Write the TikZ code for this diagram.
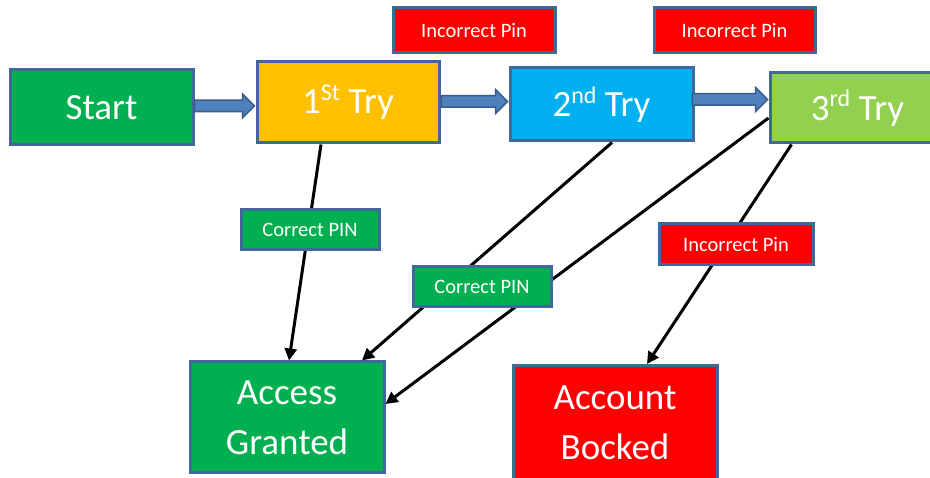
\documentclass[tikz,border=0pt]{standalone}
\usepackage{fontspec}
\setmainfont{Carlito}
\usetikzlibrary{shapes.arrows,arrows.meta,calc}
\definecolor{bord}{HTML}{41689A}
\definecolor{cgreen}{HTML}{00B050}
\definecolor{cyellow}{HTML}{FFC000}
\definecolor{cblue}{HTML}{00B0F0}
\definecolor{clime}{HTML}{92D050}
\definecolor{cred}{HTML}{FF0000}
\definecolor{afill}{HTML}{4F81BD}
\definecolor{abord}{HTML}{385D8A}
\newcommand{\supx}[1]{\raisebox{0.36em}{\fontsize{24}{24}\selectfont #1}}
\tikzset{
  box/.style={draw=bord, line width=3pt, rectangle, inner sep=0pt, text=white, align=center,
    font=\fontsize{37}{50}\selectfont},
  lbl/.style={draw=bord, line width=3pt, rectangle, inner sep=0pt, text=white, fill=cred,
    font=\fontsize{20.5}{24}\selectfont},
  blockarrow/.style={single arrow, draw=abord, fill=afill, line width=1.5pt, inner xsep=0pt,
    inner ysep=5pt, single arrow head extend=6pt, single arrow tip angle=90},
  conn/.style={draw=black, line width=3pt, -{Triangle[length=12pt,width=12pt]}}
}
\begin{document}
\begin{tikzpicture}[x=1pt,y=-1pt]
\clip (0,0) rectangle (930,478);
\fill[white] (0,0) rectangle (930,478);
% main boxes
\node[box, fill=cgreen, minimum width=183pt, minimum height=75pt] (start) at (101.5,107.5) {Start};
\node[box, fill=cyellow, minimum width=182pt, minimum height=81pt] (try1) at (348,102.5) {1\supx{St} Try};
\node[box, fill=cblue, minimum width=183pt, minimum height=73pt] (try2) at (601.5,104.5) {2\supx{nd} Try};
\node[box, fill=clime, minimum width=175pt, minimum height=70pt] (try3) at (857.5,108) {3\supx{rd} Try};
\node[box, fill=cgreen, minimum width=194pt, minimum height=111pt] (acc) at (287,417.5) {Access\\Granted};
\node[box, fill=cred, minimum width=204pt, minimum height=115pt] (blk) at (615,423) {Account\\Bocked};
% block arrows
\node[blockarrow, anchor=tip, minimum height=60pt] (ar1) at (try1.west |- 0,106) {};
\node[blockarrow, anchor=tip, minimum height=66pt] (ar2) at (try2.west |- 0,101.5) {};
\node[blockarrow, anchor=tip, minimum height=75pt] (ar3) at (try3.west |- 0,99.5) {};
% connectors
\draw[conn] ([xshift=-27pt]try1.south) -- ([xshift=2pt]acc.north);
\draw[conn] ([xshift=10.5pt]try2.south) -- ([xshift=75pt]acc.north);
\draw[conn] ([yshift=-10pt]try3.west) -- ([yshift=13.5pt]acc.east);
\draw[conn] ([xshift=23pt]try3.south west) -- ([xshift=32pt]blk.north);
% labels
\node[lbl, minimum width=162pt, minimum height=45pt] (inc1) at (474,30.5) {Incorrect Pin};
\node[lbl, minimum width=161pt, minimum height=45pt] (inc2) at (734.5,30.5) {Incorrect Pin};
\node[lbl, minimum width=154pt, minimum height=41pt] (inc3) at (736,244.5) {Incorrect Pin};
\node[lbl, fill=cgreen, minimum width=138pt, minimum height=40pt] (cor1) at (310,230) {Correct PIN};
\node[lbl, fill=cgreen, minimum width=138pt, minimum height=40pt] (cor2) at (482,287) {Correct PIN};
\end{tikzpicture}
\end{document}
